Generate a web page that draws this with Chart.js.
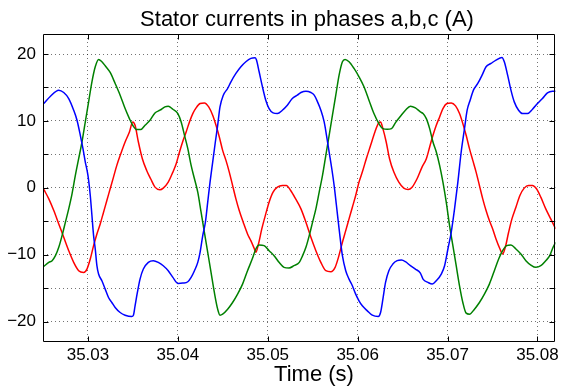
<!DOCTYPE html>
<html>
<head>
<meta charset="utf-8">
<title>Stator currents</title>
<script src="https://cdn.jsdelivr.net/npm/chart.js@4.4.1/dist/chart.umd.min.js"></script>
<style>
  html, body { margin: 0; padding: 0; background: #fff; }
</style>
</head>
<body>
<canvas id="currents" width="563" height="390"></canvas>
<script>
"use strict";

// [time (s), current (A)]
const phaseA = [
  [35.025092, 12.6], [35.025830, 13.7], [35.026753, 14.6], [35.027306, 14.25], [35.027860, 13.35],
  [35.028413, 11.6], [35.028782, 10.1], [35.029151, 7.85], [35.029446, 5.85], [35.029705, 3.85],
  [35.030000, 1.85], [35.030258, -1.15], [35.030443, -4.15], [35.030627, -7.15], [35.030812, -9.15],
  [35.030996, -11.65], [35.031181, -12.9], [35.031550, -13.9], [35.031919, -15.15], [35.032288, -16.4],
  [35.032657, -17.15], [35.033026, -17.9], [35.033579, -18.65], [35.034133, -19.05], [35.034871, -19.25],
  [35.035055, -19.05], [35.035240, -17.65], [35.035498, -15.65], [35.035793, -13.65], [35.036162, -12.15],
  [35.036716, -11.15], [35.037269, -10.9], [35.037823, -11.15], [35.038376, -11.65], [35.038930, -12.4],
  [35.039446, -13.4], [35.040000, -14.3], [35.040553, -14.25], [35.041107, -14.05], [35.041476, -13.4],
  [35.041845, -12.4], [35.042214, -11.15], [35.042472, -9.65], [35.042767, -7.15], [35.043062, -5.15],
  [35.043321, -2.15], [35.043579, 0.85], [35.043874, 3.85], [35.044169, 6.85], [35.044428, 9.35],
  [35.044686, 12.1], [35.045055, 13.85], [35.045535, 14.85], [35.045904, 15.85], [35.046457, 17.1],
  [35.047011, 18.1], [35.047564, 18.85], [35.048118, 19.35], [35.048597, 19.45], [35.048745, 19.1],
  [35.049040, 17.35], [35.049409, 15.1], [35.049778, 13.1], [35.050147, 11.85], [35.050590, 11.2],
  [35.051070, 11.1], [35.051623, 11.6], [35.052177, 12.35], [35.052730, 13.35], [35.053284, 13.85],
  [35.053691, 14.25], [35.054244, 14.45], [35.054798, 14.25], [35.055167, 13.85], [35.055536, 12.85],
  [35.055905, 11.6], [35.056274, 9.85], [35.056532, 7.85], [35.056827, 5.35], [35.057122, 2.85],
  [35.057381, 0.35], [35.057639, -2.65], [35.057934, -6.15], [35.058303, -10.15], [35.058672, -12.4],
  [35.059041, -13.65], [35.059410, -14.65], [35.059779, -15.9], [35.060148, -16.9], [35.060517, -17.65],
  [35.061071, -18.4], [35.061624, -19.05], [35.062288, -19.25], [35.062547, -18.65], [35.062805, -16.65],
  [35.063100, -14.15], [35.063469, -12.4], [35.063912, -11.4], [35.064392, -10.9], [35.064871, -10.8],
  [35.065314, -11.05], [35.065868, -11.65], [35.066421, -12.15], [35.066975, -12.75], [35.067269, -13.65],
  [35.067823, -14.15], [35.068302, -14.4], [35.068745, -13.9], [35.069299, -12.9], [35.069668, -11.65],
  [35.070037, -9.15], [35.070406, -6.65], [35.070775, -3.15], [35.071144, 0.85], [35.071513, 5.35],
  [35.071882, 8.85], [35.072177, 11.6], [35.072509, 13.1], [35.072878, 14.6], [35.073358, 15.6],
  [35.073837, 16.85], [35.074280, 18.1], [35.074834, 18.6], [35.075387, 19.1], [35.076051, 19.5],
  [35.076309, 18.85], [35.076679, 16.85], [35.077048, 14.6], [35.077417, 12.85], [35.077896, 11.6],
  [35.078339, 11.1], [35.078893, 11.1], [35.079446, 11.75], [35.080000, 12.6], [35.080553, 13.35],
  [35.081107, 14.2], [35.081660, 14.45], [35.082029, 14.45]
];

const phaseB = [
  [35.025092, -11.75], [35.025646, -11.15], [35.026015, -10.9], [35.026384, -10.15], [35.026753, -8.9],
  [35.027122, -7.15], [35.027491, -5.15], [35.027860, -3.15], [35.028229, -0.9], [35.028598, 1.85],
  [35.028967, 4.35], [35.029336, 6.85], [35.029705, 9.85], [35.030074, 12.85], [35.030443, 15.85],
  [35.030812, 18.1], [35.031181, 19.2], [35.031550, 18.85], [35.031919, 18.25], [35.032472, 17.25],
  [35.033026, 15.6], [35.033579, 13.85], [35.034133, 11.85], [35.034612, 10.35], [35.034981, 9.35],
  [35.035424, 8.7], [35.035867, 8.7], [35.036347, 9.35], [35.036900, 10.1], [35.037454, 11.2],
  [35.038007, 11.6], [35.038561, 12.1], [35.038930, 12.2], [35.039446, 11.75], [35.040000, 11.1],
  [35.040369, 9.85], [35.040738, 7.85], [35.041107, 5.85], [35.041476, 3.35], [35.041845, 1.35],
  [35.042214, -0.65], [35.042583, -3.65], [35.042952, -6.65], [35.043321, -9.65], [35.043690, -12.65],
  [35.044059, -15.65], [35.044428, -18.15], [35.044686, -19.05], [35.044981, -18.9], [35.045535, -18.15],
  [35.046088, -17.15], [35.046642, -15.9], [35.047195, -14.4], [35.047749, -12.4], [35.048302, -10.55],
  [35.048671, -9.15], [35.049040, -8.55], [35.049594, -8.65], [35.050147, -9.4], [35.050701, -10.15],
  [35.051254, -11.15], [35.051808, -11.9], [35.052361, -12.0], [35.052915, -11.65], [35.053506, -11.15],
  [35.053875, -10.15], [35.054244, -8.9], [35.054613, -7.15], [35.054982, -5.15], [35.055351, -3.15],
  [35.055720, -0.65], [35.056089, 1.85], [35.056458, 4.85], [35.056827, 7.85], [35.057196, 10.85],
  [35.057565, 13.85], [35.057934, 16.85], [35.058303, 18.85], [35.058598, 19.2], [35.059041, 18.85],
  [35.059595, 17.85], [35.060148, 16.6], [35.060702, 15.1], [35.061255, 13.1], [35.061809, 11.1],
  [35.062362, 9.6], [35.062805, 8.85], [35.063285, 8.75], [35.063764, 8.85], [35.064207, 9.75],
  [35.064761, 10.7], [35.065314, 11.6], [35.065868, 12.2], [35.066421, 11.95], [35.066975, 11.35],
  [35.067269, 11.1], [35.067638, 10.35], [35.068007, 8.85], [35.068376, 6.85], [35.068745, 5.35],
  [35.069114, 3.35], [35.069483, 0.85], [35.069852, -2.15], [35.070221, -5.65], [35.070590, -8.65],
  [35.070959, -11.65], [35.071328, -14.65], [35.071697, -17.15], [35.072066, -18.75], [35.072435, -18.9],
  [35.072989, -18.15], [35.073542, -17.15], [35.074096, -15.9], [35.074649, -14.4], [35.075203, -12.4],
  [35.075682, -10.65], [35.076125, -9.4], [35.076568, -8.65], [35.077048, -8.55], [35.077601, -9.15],
  [35.078155, -9.9], [35.078708, -10.9], [35.079262, -11.55], [35.079815, -11.9], [35.080369, -11.65],
  [35.080922, -10.9], [35.081365, -10.15], [35.081734, -8.9], [35.082029, -8.15]
];

const phaseC = [
  [35.025092, -0.25], [35.025646, -1.65], [35.026199, -3.4], [35.026753, -5.4], [35.027306, -7.4],
  [35.027860, -9.4], [35.028413, -11.15], [35.028967, -12.4], [35.029520, -12.65], [35.029889, -12.15],
  [35.030258, -10.65], [35.030627, -8.65], [35.030996, -6.9], [35.031365, -5.4], [35.031734, -3.65],
  [35.032103, -1.9], [35.032472, -0.15], [35.032841, 1.6], [35.033210, 3.35], [35.033653, 5.1],
  [35.034133, 6.85], [35.034612, 8.35], [35.034981, 9.85], [35.035240, 9.35], [35.035609, 6.85],
  [35.036051, 4.35], [35.036531, 2.6], [35.036974, 1.35], [35.037454, 0.1], [35.038007, -0.3],
  [35.038376, -0.05], [35.038930, 0.85], [35.039446, 2.35], [35.039815, 3.6], [35.040184, 5.35],
  [35.040553, 6.95], [35.040922, 8.35], [35.041291, 9.85], [35.041660, 11.1], [35.042029, 11.95],
  [35.042472, 12.6], [35.042952, 12.7], [35.043431, 12.1], [35.043874, 10.85], [35.044243, 9.35],
  [35.044612, 7.6], [35.044981, 5.6], [35.045350, 4.1], [35.045719, 2.35], [35.046088, 0.35],
  [35.046457, -1.65], [35.046826, -3.4], [35.047269, -5.15], [35.047749, -6.9], [35.048118, -7.9],
  [35.048487, -9.05], [35.048671, -9.65], [35.048966, -8.4], [35.049335, -6.15], [35.049778, -3.9],
  [35.050147, -2.15], [35.050590, -0.65], [35.051070, 0.1], [35.051623, 0.35], [35.052066, 0.35],
  [35.052546, -0.4], [35.053099, -1.65], [35.053691, -3.15], [35.054244, -5.15], [35.054798, -7.4],
  [35.055351, -9.4], [35.055905, -11.15], [35.056458, -12.4], [35.057012, -12.55], [35.057491, -11.9],
  [35.057860, -10.4], [35.058303, -8.15], [35.058672, -6.4], [35.059041, -4.65], [35.059410, -2.9],
  [35.059779, -1.15], [35.060148, 0.85], [35.060517, 2.35], [35.060960, 4.35], [35.061440, 6.35],
  [35.061919, 8.35], [35.062362, 9.75], [35.062547, 9.85], [35.062805, 8.85], [35.063174, 6.85],
  [35.063543, 4.35], [35.064023, 2.35], [35.064576, 0.85], [35.065130, -0.05], [35.065610, -0.25],
  [35.066052, 0.1], [35.066606, 1.35], [35.067159, 3.1], [35.067638, 4.35], [35.068007, 6.1],
  [35.068376, 7.85], [35.068745, 9.35], [35.069114, 10.6], [35.069483, 11.85], [35.069926, 12.6],
  [35.070406, 12.7], [35.070886, 12.25], [35.071328, 11.1], [35.071697, 9.6], [35.072066, 7.85],
  [35.072435, 5.85], [35.072804, 4.1], [35.073173, 2.35], [35.073542, 0.35], [35.073911, -1.65],
  [35.074280, -3.4], [35.074649, -4.9], [35.075018, -6.15], [35.075387, -7.65], [35.075830, -9.15],
  [35.076125, -9.9], [35.076420, -8.9], [35.076789, -6.65], [35.077158, -4.65], [35.077601, -2.9],
  [35.078044, -1.15], [35.078523, -0.05], [35.079003, 0.35], [35.079446, 0.35], [35.079889, -0.15],
  [35.080369, -1.4], [35.080922, -3.15], [35.081476, -4.65], [35.082029, -6.15]
];

const xTicks = [35.03, 35.04, 35.05, 35.06, 35.07, 35.08];
const yTicks = [-20, -15, -10, -5, 0, 5, 10, 15, 20];
const yLabelled = [-20, -10, 0, 10, 20];

const FONT = '"Liberation Sans", Arial, Helvetica, sans-serif';
const GRID = 'rgba(0, 0, 0, 0.55)';

const toPoints = rows => rows.map(([t, i]) => ({ x: t, y: i }));

// matlab style box, inward ticks, title and x label
const matlabFrame = {
    id: 'matlabFrame',
    afterDraw(chart) {
        const { ctx, chartArea: a, scales: { x, y } } = chart;
        const L = Math.round(a.left) + 0.5, R = Math.round(a.right) - 0.5;
        const T = Math.round(a.top) + 0.5, B = Math.round(a.bottom) - 0.5;
        ctx.save();
        ctx.strokeStyle = '#000';
        ctx.lineWidth = 1;
        ctx.beginPath();
        ctx.rect(L, T, R - L, B - T);
        xTicks.forEach(v => {
            const px = Math.round(x.getPixelForValue(v)) + 0.5;
            ctx.moveTo(px, B); ctx.lineTo(px, B - 5);
            ctx.moveTo(px, T); ctx.lineTo(px, T + 5);
        });
        yTicks.forEach(v => {
            const py = Math.round(y.getPixelForValue(v)) + 0.5;
            ctx.moveTo(L, py); ctx.lineTo(L + 5, py);
            ctx.moveTo(R, py); ctx.lineTo(R - 5, py);
        });
        ctx.stroke();

        ctx.fillStyle = '#000';
        ctx.textAlign = 'center';
        ctx.textBaseline = 'alphabetic';
        ctx.font = '22px ' + FONT;
        ctx.fillText('Stator currents in phases a,b,c (A)', 307, 26);
        ctx.fillText('Time (s)', 314, 381);
        ctx.restore();
    }
};

const ctx = document.getElementById('currents');
new Chart(ctx, {
    type: 'line',
    data: {
        datasets: [
            { label: 'a', data: toPoints(phaseA), borderColor: '#0000ff' },
            { label: 'b', data: toPoints(phaseB), borderColor: '#008000' },
            { label: 'c', data: toPoints(phaseC), borderColor: '#ff0000' }
        ]
    },
    options: {
        responsive: false,
        animation: false,
        devicePixelRatio: 1,
        layout: { padding: { left: 0, right: 7, top: 34, bottom: 20 } },
        elements: {
            line: { borderWidth: 1.5, cubicInterpolationMode: 'monotone', fill: false },
            point: { radius: 0 }
        },
        plugins: {
            legend: { display: false },
            tooltip: { enabled: false }
        },
        scales: {
            x: {
                type: 'linear',
                min: 35.025,
                max: 35.082,
                afterBuildTicks: s => { s.ticks = xTicks.map(v => ({ value: v })); },
                ticks: {
                    callback: v => v.toFixed(2),
                    font: { family: FONT, size: 17 },
                    color: '#000',
                    padding: 4,
                    maxRotation: 0,
                    autoSkip: false
                },
                grid: { color: GRID, lineWidth: 1, drawTicks: false },
                border: { display: false, dash: [1, 3] }
            },
            y: {
                min: -23,
                max: 23,
                afterBuildTicks: s => { s.ticks = yTicks.map(v => ({ value: v })); },
                afterFit: s => { s.width = 43; },
                ticks: {
                    callback: v => yLabelled.includes(v) ? (v < 0 ? '\u2212' + Math.abs(v) : String(v)) : '',
                    font: { family: FONT, size: 17 },
                    color: '#000',
                    padding: 7
                },
                grid: { color: GRID, lineWidth: 1, drawTicks: false },
                border: { display: false, dash: [1, 3] }
            }
        }
    },
    plugins: [matlabFrame]
});
</script>
</body>
</html>
